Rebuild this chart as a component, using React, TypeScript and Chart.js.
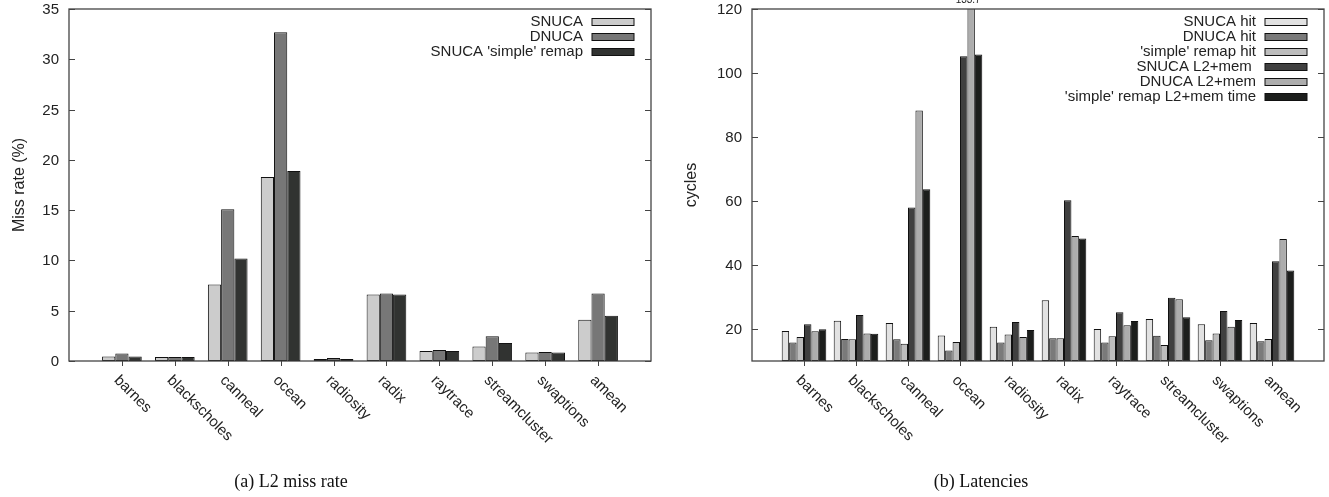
import React, { useEffect, useRef } from "react";
import { Chart, registerables } from "chart.js";

Chart.register(...registerables);

// ---------- data ----------
const categories = [
  "barnes",
  "blackscholes",
  "canneal",
  "ocean",
  "radiosity",
  "radix",
  "raytrace",
  "streamcluster",
  "swaptions",
  "amean",
];

const missNames = ["SNUCA", "DNUCA", "SNUCA 'simple' remap"];
const missSnuca = [0.45, 0.4, 7.6, 18.3, 0.2, 6.6, 1.0, 1.45, 0.85, 4.1];
const missDnuca = [0.75, 0.4, 15.1, 32.7, 0.3, 6.7, 1.1, 2.45, 0.9, 6.7];
const missRemap = [0.45, 0.4, 10.2, 18.9, 0.2, 6.6, 1.0, 1.8, 0.85, 4.5];
const missTicks = [0, 5, 10, 15, 20, 25, 30, 35];

const latNames = [
  "SNUCA hit",
  "DNUCA hit",
  "'simple' remap hit",
  "SNUCA L2+mem ",
  "DNUCA L2+mem",
  "'simple' remap L2+mem time",
];
const latSnucaHit = [19.4, 22.6, 21.9, 18.0, 20.7, 29.0, 20.0, 23.1, 21.5, 21.9];
const latDnucaHit = [15.8, 16.9, 16.8, 13.3, 15.8, 17.1, 15.8, 17.9, 16.5, 16.2];
const latRemapHit = [17.5, 16.8, 15.4, 15.9, 18.3, 17.1, 17.7, 15.0, 18.6, 16.9];
const latSnucaMem = [21.5, 24.4, 58.0, 105.2, 22.2, 60.2, 25.2, 29.8, 25.6, 41.2];
const latDnucaMem = [19.3, 18.6, 88.3, 133.7, 17.5, 49.1, 21.2, 29.3, 20.7, 48.1];
const latRemapMem = [19.9, 18.5, 63.7, 105.8, 19.7, 48.3, 22.5, 23.7, 22.8, 38.3];
const latTicks = [20, 40, 60, 80, 100, 120];

const missColors = ["#cccccc", "#777777", "#313331"];
const latColors = ["#e2e2e2", "#7a7a7a", "#bdbdbd", "#404040", "#adadad", "#1c1e1c"];

const FONT = "'Liberation Sans', Arial, sans-serif";
const SERIF = "'Liberation Serif', 'Times New Roman', serif";

type Spec = {
  canvasLeft: number;
  width: number;
  height: number;
  area: { left: number; right: number; top: number; bottom: number };
  yMin: number;
  yMax: number;
  ticks: number[];
  names: string[];
  values: number[][];
  colors: string[];
  catPct: number;
  yTitle: string;
  yTitleX: number;
  caption: string;
  captionX: number;
  showOverflow: boolean;
};

function txt(
  ctx: CanvasRenderingContext2D,
  s: string,
  x: number,
  y: number,
  align: CanvasTextAlign,
  baseline: CanvasTextBaseline,
  rot = 0,
  size = 15
) {
  ctx.save();
  ctx.translate(x, y);
  if (rot) ctx.rotate(rot);
  ctx.font = `${size}px ${FONT}`;
  ctx.textAlign = align;
  ctx.textBaseline = baseline;
  ctx.fillStyle = "#222";
  ctx.fillText(s, 0, 0);
  ctx.restore();
}

function makePlugin(spec: Spec) {
  return {
    id: "gnuplotLook",
    afterDraw(chart: any) {
      const { ctx, chartArea: a, scales } = chart;
      const xs = scales.x;
      const ys = scales.y;
      ctx.save();
      const line = (x1: number, y1: number, x2: number, y2: number) => {
        ctx.beginPath();
        ctx.moveTo(x1, y1);
        ctx.lineTo(x2, y2);
        ctx.stroke();
      };
      ctx.strokeStyle = "#444";
      ctx.lineWidth = 1.3;
      ctx.strokeRect(a.left, a.top, a.right - a.left, a.bottom - a.top);
      // y ticks (inward, mirrored) + labels
      ctx.lineWidth = 1;
      ys.ticks.forEach((t: any) => {
        const py = Math.round(ys.getPixelForValue(t.value)) + 0.5;
        line(a.left, py, a.left + 6, py);
        line(a.right, py, a.right - 6, py);
        txt(ctx, String(t.value), a.left - 10, py, "right", "middle");
      });
      // x ticks and rotated labels
      categories.forEach((c, i) => {
        const px = Math.round(xs.getPixelForValue(i)) + 0.5;
        line(px, a.bottom, px, a.bottom + 5);
        txt(ctx, c, px - 6, a.bottom + 17, "left", "middle", Math.PI / 4);
      });
      // legend
      const boxW = 42;
      const boxH = 7;
      const boxRight = a.right - 17;
      spec.names.forEach((n, i) => {
        const ry = a.top + 13 + i * 15;
        txt(ctx, n, boxRight - boxW - 9, ry, "right", "middle");
        ctx.fillStyle = spec.colors[i];
        ctx.fillRect(boxRight - boxW, ry - boxH / 2, boxW, boxH);
        ctx.strokeStyle = "#111";
        ctx.strokeRect(boxRight - boxW, ry - boxH / 2, boxW, boxH);
      });
      // y title
      txt(ctx, spec.yTitle, spec.yTitleX, (a.top + a.bottom) / 2, "center", "middle", -Math.PI / 2, 16);
      // overflow label(s)
      if (spec.showOverflow) {
        chart.data.datasets.forEach((ds: any, di: number) => {
          const meta = chart.getDatasetMeta(di);
          ds.data.forEach((d: any, i: number) => {
            if (d.y > spec.yMax) {
              const el = meta.data[i];
              txt(ctx, d.y.toFixed(1), el.x - 3, a.top - 6, "center", "alphabetic", 0, 10);
            }
          });
        });
      }
      // caption
      ctx.font = `18px ${SERIF}`;
      ctx.textAlign = "center";
      ctx.textBaseline = "middle";
      ctx.fillStyle = "#111";
      ctx.fillText(spec.caption, spec.captionX, 482);
      ctx.restore();
    },
  };
}

function GnuplotBars({ spec }: { spec: Spec }) {
  const ref = useRef<HTMLCanvasElement | null>(null);
  useEffect(() => {
    if (!ref.current) return;
    const chart = new Chart(ref.current, {
      type: "bar",
      data: {
        datasets: spec.values.map((vals, si) => ({
          label: spec.names[si],
          data: vals.map((v, i) => ({ x: i, y: v })),
          backgroundColor: spec.colors[si],
          borderColor: "#111",
          borderWidth: 1,
          borderSkipped: false,
          categoryPercentage: spec.catPct,
          barPercentage: 1,
          base: spec.yMin,
          clip: 0,
        })),
      },
      options: {
        responsive: false,
        devicePixelRatio: 1,
        animation: false,
        layout: {
          padding: {
            left: 0,
            top: spec.area.top,
            right: spec.width - spec.area.right,
            bottom: spec.height - spec.area.bottom,
          },
        },
        plugins: { legend: { display: false }, tooltip: { enabled: false } },
        scales: {
          x: {
            type: "linear",
            min: -1,
            max: categories.length,
            offset: false,
            display: false,
            ticks: { stepSize: 1 },
          },
          y: {
            type: "linear",
            min: spec.yMin,
            max: spec.yMax,
            afterBuildTicks: (s: any) => {
              s.ticks = spec.ticks.map((v) => ({ value: v }));
            },
            afterFit: (s: any) => {
              s.width = spec.area.left;
            },
            ticks: { display: false },
            grid: { display: false, drawTicks: false },
            border: { display: false },
          },
        },
      },
      plugins: [makePlugin(spec)],
    } as any);
    return () => chart.destroy();
  }, [spec]);
  return (
    <canvas
      ref={ref}
      width={spec.width}
      height={spec.height}
      style={{
        position: "absolute",
        left: spec.canvasLeft,
        top: 0,
        width: spec.width,
        height: spec.height,
      }}
    />
  );
}

const leftSpec: Spec = {
  canvasLeft: 0,
  width: 664,
  height: 497,
  area: { left: 69, right: 651, top: 9, bottom: 361 },
  yMin: 0,
  yMax: 35,
  ticks: missTicks,
  names: missNames,
  values: [missSnuca, missDnuca, missRemap],
  colors: missColors,
  catPct: 0.75,
  yTitle: "Miss rate (%)",
  yTitleX: 20,
  caption: "(a) L2 miss rate",
  captionX: 291,
  showOverflow: false,
};

const rightSpec: Spec = {
  canvasLeft: 664,
  width: 665,
  height: 497,
  area: { left: 88, right: 660, top: 9, bottom: 361 },
  yMin: 10,
  yMax: 120,
  ticks: latTicks,
  names: latNames,
  values: [latSnucaHit, latDnucaHit, latRemapHit, latSnucaMem, latDnucaMem, latRemapMem],
  colors: latColors,
  catPct: 6 / 7,
  yTitle: "cycles",
  yTitleX: 28,
  caption: "(b) Latencies",
  captionX: 317,
  showOverflow: true,
};

export default function App() {
  return (
    <div
      style={{
        position: "fixed",
        left: 0,
        top: 0,
        width: 1329,
        height: 497,
        background: "#fff",
        overflow: "hidden",
      }}
    >
      <GnuplotBars spec={leftSpec} />
      <GnuplotBars spec={rightSpec} />
    </div>
  );
}
